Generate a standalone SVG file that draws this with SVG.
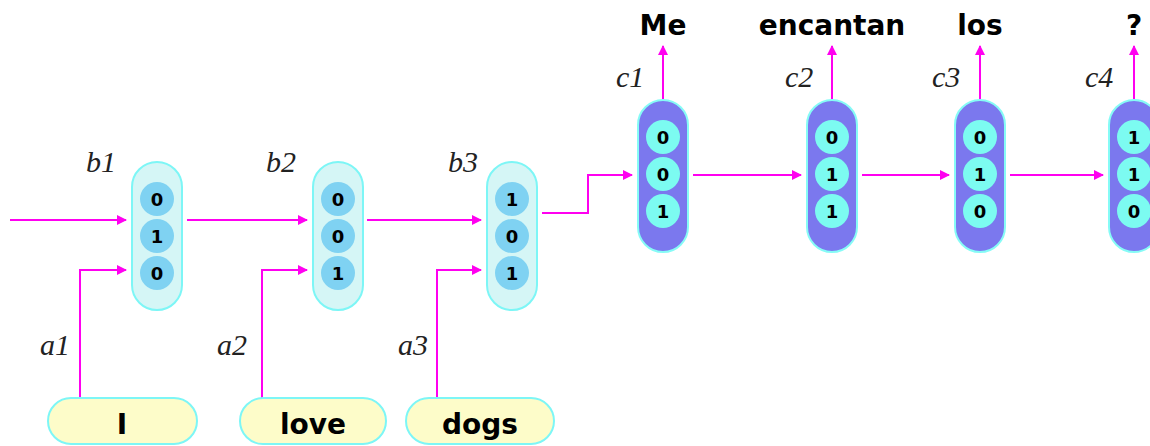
<svg xmlns="http://www.w3.org/2000/svg" width="1150" height="446" viewBox="0 0 1150 446">
  <style>
    .enc { fill: #d5f6f6; stroke: #7df6f6; stroke-width: 2; }
    .enc-cell { fill: #7fd2f2; }
    .dec { fill: #7b78ee; stroke: #86fbf6; stroke-width: 2; }
    .dec-cell { fill: #7cfbf1; }
    .word { fill: #fdfcc9; stroke: #7df6f6; stroke-width: 2; }
    .bit { font-family: "DejaVu Sans", sans-serif; font-weight: bold; font-size: 18px; text-anchor: middle; fill: #000; }
    .tok { font-family: "DejaVu Sans", sans-serif; font-weight: bold; font-size: 28px; text-anchor: middle; fill: #000; }
    .var { font-family: "Liberation Serif", serif; font-style: italic; font-size: 30px; fill: #222; }
    .wire { fill: none; stroke: #ff00f0; stroke-width: 2; marker-end: url(#tip); }
  </style>
  <defs>
    <marker id="tip" viewBox="0 0 10 10" refX="9" refY="5" markerWidth="5" markerHeight="5" markerUnits="strokeWidth" orient="auto">
      <path d="M0,0 L10,5 L0,10 z" fill="#ff00f0"/>
    </marker>
  </defs>

  <!-- connectors -->
  <g id="connectors">
    <path class="wire" d="M10,220 H126"/>
    <path class="wire" d="M187,220 H307"/>
    <path class="wire" d="M367,220 H481"/>
    <path class="wire" d="M542,213 H588 V175 H632"/>
    <path class="wire" d="M693,175 H801"/>
    <path class="wire" d="M862,175 H949"/>
    <path class="wire" d="M1010,175 H1103"/>
    <path class="wire" d="M80,398 V270 H126"/>
    <path class="wire" d="M262,398 V270 H307"/>
    <path class="wire" d="M437,398 V270 H481"/>
    <path class="wire" d="M663,99 V46"/>
    <path class="wire" d="M832,99 V46"/>
    <path class="wire" d="M980,99 V46"/>
    <path class="wire" d="M1134,99 V46"/>
  </g>

  <!-- encoder states -->
  <g id="b1">
    <rect class="enc" x="132" y="162" width="50" height="148" rx="25"/>
    <circle class="enc-cell" cx="157" cy="199" r="17"/>
    <circle class="enc-cell" cx="157" cy="236" r="17"/>
    <circle class="enc-cell" cx="157" cy="273" r="17"/>
    <text class="bit" x="157" y="205.5">0</text>
    <text class="bit" x="157" y="242.5">1</text>
    <text class="bit" x="157" y="279.5">0</text>
    <text class="var" x="86" y="172">b1</text>
  </g>
  <g id="b2">
    <rect class="enc" x="313" y="162" width="50" height="148" rx="25"/>
    <circle class="enc-cell" cx="338" cy="199" r="17"/>
    <circle class="enc-cell" cx="338" cy="236" r="17"/>
    <circle class="enc-cell" cx="338" cy="273" r="17"/>
    <text class="bit" x="338" y="205.5">0</text>
    <text class="bit" x="338" y="242.5">0</text>
    <text class="bit" x="338" y="279.5">1</text>
    <text class="var" x="266" y="172">b2</text>
  </g>
  <g id="b3">
    <rect class="enc" x="487" y="162" width="50" height="148" rx="25"/>
    <circle class="enc-cell" cx="512" cy="199" r="17"/>
    <circle class="enc-cell" cx="512" cy="236" r="17"/>
    <circle class="enc-cell" cx="512" cy="273" r="17"/>
    <text class="bit" x="512" y="205.5">1</text>
    <text class="bit" x="512" y="242.5">0</text>
    <text class="bit" x="512" y="279.5">1</text>
    <text class="var" x="448" y="172">b3</text>
  </g>

  <!-- decoder states -->
  <g id="c1">
    <rect class="dec" x="638" y="100" width="50" height="152" rx="25"/>
    <circle class="dec-cell" cx="663" cy="137" r="17"/>
    <circle class="dec-cell" cx="663" cy="174" r="17"/>
    <circle class="dec-cell" cx="663" cy="211" r="17"/>
    <text class="bit" x="663" y="143.5">0</text>
    <text class="bit" x="663" y="180.5">0</text>
    <text class="bit" x="663" y="217.5">1</text>
    <text class="var" x="616" y="87">c1</text>
    <text class="tok" x="663" y="35">Me</text>
  </g>
  <g id="c2">
    <rect class="dec" x="807" y="100" width="50" height="152" rx="25"/>
    <circle class="dec-cell" cx="832" cy="137" r="17"/>
    <circle class="dec-cell" cx="832" cy="174" r="17"/>
    <circle class="dec-cell" cx="832" cy="211" r="17"/>
    <text class="bit" x="832" y="143.5">0</text>
    <text class="bit" x="832" y="180.5">1</text>
    <text class="bit" x="832" y="217.5">1</text>
    <text class="var" x="785" y="87">c2</text>
    <text class="tok" x="832" y="35">encantan</text>
  </g>
  <g id="c3">
    <rect class="dec" x="955" y="100" width="50" height="152" rx="25"/>
    <circle class="dec-cell" cx="980" cy="137" r="17"/>
    <circle class="dec-cell" cx="980" cy="174" r="17"/>
    <circle class="dec-cell" cx="980" cy="211" r="17"/>
    <text class="bit" x="980" y="143.5">0</text>
    <text class="bit" x="980" y="180.5">1</text>
    <text class="bit" x="980" y="217.5">0</text>
    <text class="var" x="932" y="87">c3</text>
    <text class="tok" x="980" y="35">los</text>
  </g>
  <g id="c4">
    <rect class="dec" x="1109" y="100" width="50" height="152" rx="25"/>
    <circle class="dec-cell" cx="1134" cy="137" r="17"/>
    <circle class="dec-cell" cx="1134" cy="174" r="17"/>
    <circle class="dec-cell" cx="1134" cy="211" r="17"/>
    <text class="bit" x="1134" y="143.5">1</text>
    <text class="bit" x="1134" y="180.5">1</text>
    <text class="bit" x="1134" y="217.5">0</text>
    <text class="var" x="1085" y="87">c4</text>
    <text class="tok" x="1134" y="35">?</text>
  </g>

  <!-- input words -->
  <g id="w1">
    <rect class="word" x="48" y="398" width="149" height="46" rx="23"/>
    <text class="tok" x="122" y="434">I</text>
    <text class="var" x="40" y="355">a1</text>
  </g>
  <g id="w2">
    <rect class="word" x="240" y="398" width="146" height="46" rx="23"/>
    <text class="tok" x="313" y="434">love</text>
    <text class="var" x="217" y="355">a2</text>
  </g>
  <g id="w3">
    <rect class="word" x="406" y="398" width="148" height="46" rx="23"/>
    <text class="tok" x="480" y="434">dogs</text>
    <text class="var" x="398" y="355">a3</text>
  </g>
</svg>
